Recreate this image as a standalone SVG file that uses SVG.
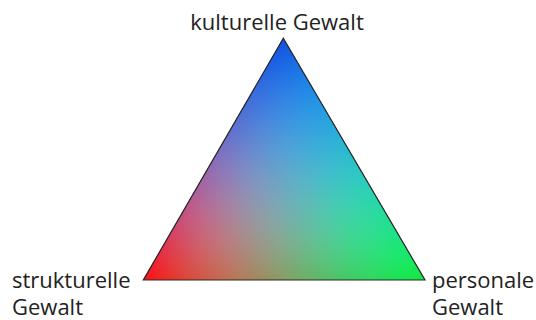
<svg xmlns="http://www.w3.org/2000/svg" width="536" height="320" viewBox="0 0 536 320">
<style>
.lbl{font-family:"Open Sans","Noto Sans",sans-serif;font-size:22px;fill:#222}
.layer{mix-blend-mode:plus-lighter}
</style>
<defs>
<radialGradient id="gB" gradientUnits="userSpaceOnUse" cx="283.3" cy="38.3" r="282">
<stop offset="0" stop-color="rgb(18,78,222)"/>
<stop offset="0.1" stop-color="rgb(18,77,220)"/>
<stop offset="0.2" stop-color="rgb(17,75,213)"/>
<stop offset="0.3" stop-color="rgb(16,71,202)"/>
<stop offset="0.4" stop-color="rgb(15,66,186)"/>
<stop offset="0.5" stop-color="rgb(14,59,167)"/>
<stop offset="0.6" stop-color="rgb(12,50,142)"/>
<stop offset="0.7" stop-color="rgb(9,40,113)"/>
<stop offset="0.8" stop-color="rgb(6,28,80)"/>
<stop offset="0.9" stop-color="rgb(3,15,42)"/>
<stop offset="1" stop-color="#000"/>
</radialGradient>
<radialGradient id="gR" gradientUnits="userSpaceOnUse" cx="143.3" cy="280" r="282">
<stop offset="0" stop-color="rgb(250,12,12)"/>
<stop offset="0.3" stop-color="rgb(180,9,9)"/>
<stop offset="0.5" stop-color="rgb(118,6,6)"/>
<stop offset="0.6" stop-color="rgb(85,4,4)"/>
<stop offset="0.75" stop-color="rgb(43,2,2)"/>
<stop offset="0.9" stop-color="rgb(10,0,0)"/>
<stop offset="1" stop-color="#000"/>
</radialGradient>
<radialGradient id="gG" gradientUnits="userSpaceOnUse" cx="425" cy="280" r="282">
<stop offset="0" stop-color="rgb(18,232,62)"/>
<stop offset="0.1" stop-color="rgb(17,217,58)"/>
<stop offset="0.2" stop-color="rgb(15,198,53)"/>
<stop offset="0.3" stop-color="rgb(14,177,47)"/>
<stop offset="0.4" stop-color="rgb(12,155,41)"/>
<stop offset="0.5" stop-color="rgb(10,131,35)"/>
<stop offset="0.6" stop-color="rgb(8,108,29)"/>
<stop offset="0.7" stop-color="rgb(6,85,23)"/>
<stop offset="0.8" stop-color="rgb(4,60,16)"/>
<stop offset="0.9" stop-color="rgb(2,32,8)"/>
<stop offset="1" stop-color="#000"/>
</radialGradient>
<polygon id="tri" points="283.3,38.3 143.3,280 425,280"/>
</defs>
<g id="triangle">
<g style="isolation:isolate">
<use href="#tri" fill="url(#gR)"/>
<use href="#tri" fill="url(#gG)" class="layer"/>
<use href="#tri" fill="url(#gB)" class="layer"/>
</g>
<use href="#tri" fill="none" stroke="#2a2a2a" stroke-width="1.2" stroke-linejoin="miter"/>
</g>
<g id="connectors"/>
<g id="kulturelle">
<text class="lbl" x="277" y="30" text-anchor="middle">kulturelle Gewalt</text>
</g>
<g id="strukturelle">
<text class="lbl" x="12" y="288">strukturelle</text>
<text class="lbl" x="12" y="315">Gewalt</text>
</g>
<g id="personale">
<text class="lbl" x="432" y="288">personale</text>
<text class="lbl" x="432" y="315">Gewalt</text>
</g>
</svg>
